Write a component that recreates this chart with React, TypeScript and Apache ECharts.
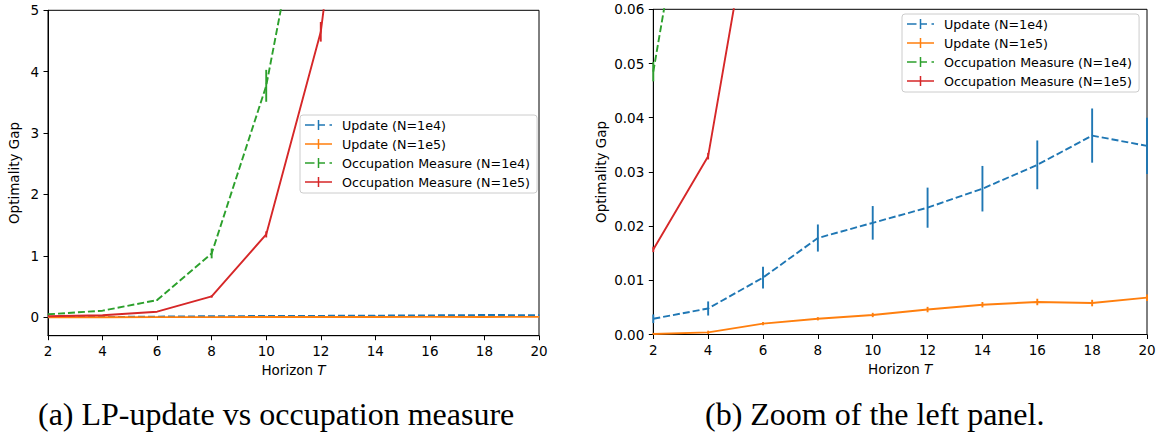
import React, { useEffect, useRef } from "react";
import * as echarts from "echarts";

// ---------------- data ----------------
const horizons = [2, 4, 6, 8, 10, 12, 14, 16, 18, 20];

const seriesNames = [
  "Update (N=1e4)",
  "Update (N=1e5)",
  "Occupation Measure (N=1e4)",
  "Occupation Measure (N=1e5)",
];

const updateN1e4 = [0.0029, 0.0048, 0.0105, 0.0178, 0.0206, 0.0234, 0.0269, 0.0313, 0.0367, 0.0348];
const updateN1e4Err = [0.0008, 0.0013, 0.002, 0.0025, 0.0031, 0.0037, 0.0042, 0.0045, 0.005, 0.0052];

const updateN1e5 = [0.0001, 0.0004, 0.002, 0.0029, 0.0036, 0.0046, 0.0055, 0.006, 0.0058, 0.0068];
const updateN1e5Err = [0.0002, 0.0003, 0.0003, 0.0003, 0.0004, 0.0005, 0.0005, 0.0006, 0.0006, 0.0006];

const occN1e4 = [0.0485, 0.1075, 0.28, 1.04, 3.77, 8.41, null, null, null, null];
const occN1e4Err = [0.0018, 0.003, 0.01, 0.08, 0.26, 0.5, null, null, null, null];

const occN1e5 = [0.0157, 0.0329, 0.0912, 0.34, 1.35, 4.65, 11.6, null, null, null];
const occN1e5Err = [0.0005, 0.0006, 0.003, 0.02, 0.05, 0.16, 0.4, null, null, null];

const xTicks = [2, 4, 6, 8, 10, 12, 14, 16, 18, 20];
const leftYTicks = [0, 1, 2, 3, 4, 5];
const rightYTicks = [0, 0.01, 0.02, 0.03, 0.04, 0.05, 0.06];

const captions = ["(a) LP-update vs occupation measure", "(b) Zoom of the left panel."];
const xAxisName = "Horizon {i|T}";
const yAxisName = "Optimality Gap";

// ---------------- styles ----------------
const colors = ["#1f77b4", "#ff7f0e", "#2ca02c", "#d62728"];
const dashed = [true, false, true, false];
const values = [updateN1e4, updateN1e5, occN1e4, occN1e5];
const errors = [updateN1e4Err, updateN1e5Err, occN1e4Err, occN1e5Err];

const FONT = "DejaVu Sans";
const LW = 1.9;

const dashedIcon =
  "path://M0,4.25H9.5V5.75H0Z M12.75,0H14.25V10H12.75Z M14.25,4.25H20V5.75H14.25Z M24.5,4.25H27V5.75H24.5Z";
const solidIcon = "path://M0,4.25H27V5.75H0Z M12.75,0H14.25V10H12.75Z";

function buildOption() {
  const grids = [
    { left: 48, top: 10.3, width: 491, height: 325.4 },
    { left: 653.3, top: 9.3, width: 493.7, height: 325.2 },
  ];

  const axisCommon = {
    axisLine: { show: true, onZero: false, lineStyle: { color: "#000", width: 1 } },
    axisTick: { show: true, inside: false, length: 4.5, lineStyle: { color: "#000", width: 1 } },
    splitLine: { show: false },
  };

  const xAxes = grids.map((_, gi) => ({
    type: "value",
    gridIndex: gi,
    min: 2,
    max: 20,
    interval: 2,
    ...axisCommon,
    axisLabel: { color: "#000", fontFamily: FONT, fontSize: 13.5, margin: 8 },
    name: xAxisName,
    nameLocation: "middle",
    nameGap: 27,
    nameTextStyle: {
      color: "#000",
      fontFamily: FONT,
      fontSize: 13.5,
      rich: { i: { fontStyle: "italic", fontFamily: FONT, fontSize: 13.5, color: "#000" } },
    },
  }));

  const yAxes = [
    {
      type: "value",
      gridIndex: 0,
      min: -0.3,
      max: 5,
      ...axisCommon,
      axisTick: { ...axisCommon.axisTick, customValues: leftYTicks },
      axisLabel: {
        color: "#000",
        fontFamily: FONT,
        fontSize: 13.5,
        margin: 9,
        customValues: leftYTicks,
      },
      name: yAxisName,
      nameLocation: "middle",
      nameGap: 27,
      nameTextStyle: { color: "#000", fontFamily: FONT, fontSize: 13.5 },
    },
    {
      type: "value",
      gridIndex: 1,
      min: 0,
      max: 0.06,
      interval: 0.01,
      ...axisCommon,
      axisLabel: {
        color: "#000",
        fontFamily: FONT,
        fontSize: 13.5,
        margin: 9,
        formatter: (v: number) => v.toFixed(2),
      },
      name: yAxisName,
      nameLocation: "middle",
      nameGap: 45,
      nameTextStyle: { color: "#000", fontFamily: FONT, fontSize: 13.5 },
    },
  ];

  const series: any[] = [];
  [0, 1].forEach((gi) => {
    seriesNames.forEach((name, si) => {
      const pts: number[][] = [];
      horizons.forEach((h, k) => {
        const v = values[si][k];
        if (v !== null && v !== undefined) pts.push([h, v as number]);
      });
      series.push({
        type: "line",
        name,
        xAxisIndex: gi,
        yAxisIndex: gi,
        data: pts,
        symbol: "none",
        showSymbol: false,
        clip: true,
        lineStyle: { color: colors[si], width: LW, type: dashed[si] ? [7, 3] : "solid" },
        itemStyle: { color: colors[si] },
        emphasis: { disabled: true },
        silent: true,
        z: 2,
      });
      const ebData: number[][] = [];
      horizons.forEach((h, k) => {
        const v = values[si][k];
        const e = errors[si][k];
        if (v !== null && e !== null) ebData.push([h, (v as number) - (e as number), (v as number) + (e as number)]);
      });
      const col = colors[si];
      series.push({
        type: "custom",
        name: "err-" + si + "-" + gi,
        xAxisIndex: gi,
        yAxisIndex: gi,
        data: ebData,
        encode: { x: 0, y: [1, 2] },
        silent: true,
        z: 2,
        renderItem: (params: any, api: any) => {
          const x = api.value(0);
          const a = api.coord([x, api.value(1)]);
          const b = api.coord([x, api.value(2)]);
          const cs = params.coordSys;
          const top = cs.y;
          const bot = cs.y + cs.height;
          let y1 = Math.min(a[1], b[1]);
          let y2 = Math.max(a[1], b[1]);
          if (y2 < top || y1 > bot) return null;
          y1 = Math.max(y1, top);
          y2 = Math.min(y2, bot);
          return {
            type: "line",
            shape: { x1: a[0], y1, x2: a[0], y2 },
            style: { stroke: col, lineWidth: LW },
          };
        },
      });
    });
  });

  const legendBase = {
    orient: "vertical",
    itemWidth: 27,
    itemHeight: 10,
    itemGap: 5,
    padding: [3, 7, 4, 5],
    backgroundColor: "rgba(255,255,255,0.8)",
    borderColor: "#cccccc",
    borderWidth: 1,
    borderRadius: 3,
    selectedMode: false,
    itemStyle: { borderWidth: 0 },
    textStyle: { color: "#000", fontFamily: FONT, fontSize: 12.7, lineHeight: 14, padding: [0, 0, 0, 5] },
    data: seriesNames.map((n, i) => ({ name: n, icon: dashed[i] ? dashedIcon : solidIcon })),
  };

  return {
    animation: false,
    backgroundColor: "#ffffff",
    grid: grids.map((g) => ({ ...g, show: true, borderColor: "#000", borderWidth: 1, backgroundColor: "transparent" })),
    xAxis: xAxes,
    yAxis: yAxes,
    legend: [
      { ...legendBase, left: 300, top: 115 },
      { ...legendBase, left: 902, top: 14 },
    ],
    series,
    graphic: [
      {
        type: "text",
        left: 38,
        top: 398,
        style: { text: captions[0], fontFamily: "Liberation Serif", fontSize: 32, fill: "#000" },
      },
      {
        type: "text",
        left: 705,
        top: 398,
        style: { text: captions[1], fontFamily: "Liberation Serif", fontSize: 32, fill: "#000" },
      },
    ],
  };
}

export default function App() {
  const ref = useRef<HTMLDivElement>(null);
  useEffect(() => {
    if (!ref.current) return;
    const chart = echarts.init(ref.current, null, { renderer: "svg" });
    chart.setOption(buildOption() as any);
    return () => chart.dispose();
  }, []);
  return (
    <div
      ref={ref}
      style={{ position: "absolute", left: 0, top: 0, width: 1163, height: 435, background: "#fff" }}
    />
  );
}
